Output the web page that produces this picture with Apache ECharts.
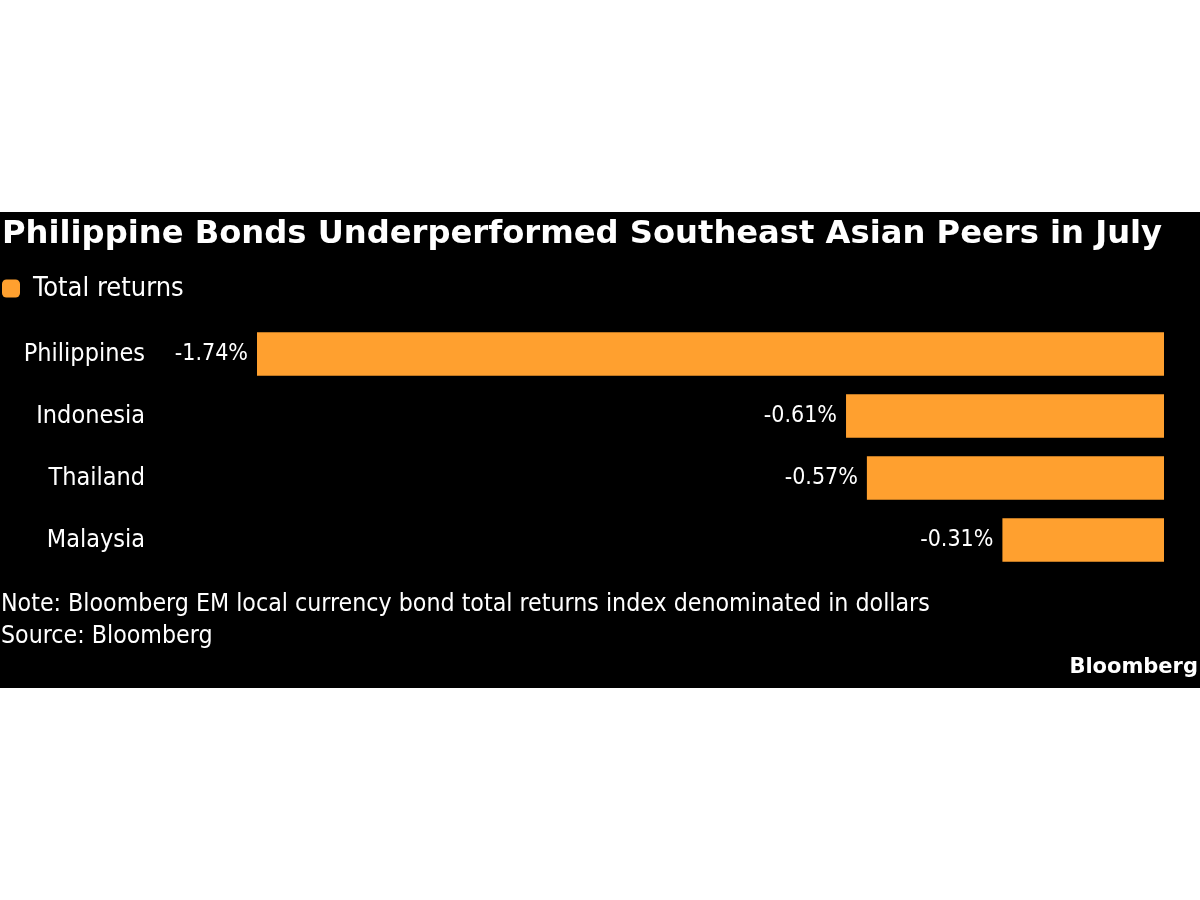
<!DOCTYPE html>
<html><head><meta charset="utf-8">
<script src="https://cdn.jsdelivr.net/npm/echarts@6/dist/echarts.min.js"></script>
<style>html,body{margin:0;padding:0;background:#fff;}#c{width:1200px;height:900px;}</style>
</head><body><div id="c"></div>
<script>
const categories = ['Philippines', 'Indonesia', 'Thailand', 'Malaysia'];
const totalReturns = [-1.74, -0.61, -0.57, -0.31];
const seriesName = 'Total returns';
const titleText = 'Philippine Bonds Underperformed Southeast Asian Peers in July';
const noteText = 'Note: Bloomberg EM local currency bond total returns index denominated in dollars';
const sourceText = 'Source: Bloomberg';

const narrow = '"Liberation Sans Narrow", "DejaVu Sans Condensed", sans-serif';
const chart = echarts.init(document.getElementById('c'));
chart.setOption({
  backgroundColor: '#fff',
  animation: false,
  graphic: [
    { type: 'rect', z: -10, shape: { x: 0, y: 212, width: 1200, height: 476 }, style: { fill: '#000' } },
    { type: 'text', left: 1, top: 592, style: { text: noteText, fill: '#fff', font: '24.7px ' + narrow } },
    { type: 'text', left: 1, top: 624, style: { text: sourceText, fill: '#fff', font: '24.7px ' + narrow } },
    { type: 'text', right: 2, top: 657, style: { text: 'Bloomberg', fill: '#fff', font: 'bold 21px "DejaVu Sans", sans-serif' } }
  ],
  title: {
    text: titleText, left: -3, top: 214,
    textStyle: { color: '#fff', fontSize: 32.2, fontWeight: 'bold', fontFamily: '"DejaVu Sans", sans-serif' }
  },
  legend: {
    left: -3, top: 270, itemWidth: 18, itemHeight: 18, itemGap: 10,
    icon: 'roundRect',
    textStyle: { color: '#fff', fontSize: 27, fontFamily: narrow, padding: [0, 0, 0, 8] },
    data: [seriesName]
  },
  grid: { left: 257, right: 36, top: 323, height: 248 },
  xAxis: {
    type: 'value', min: -1.74, max: 0, show: false
  },
  yAxis: {
    type: 'category', data: categories, inverse: true,
    axisLine: { show: false }, axisTick: { show: false },
    axisLabel: { color: '#fff', fontSize: 25, fontFamily: narrow, margin: 112 }
  },
  series: [{
    name: seriesName, type: 'bar', data: totalReturns, barWidth: '70%',
    itemStyle: { color: '#ffa02f' },
    label: {
      show: true, position: 'left', distance: 9, color: '#fff', fontSize: 23, fontFamily: narrow,
      formatter: p => p.value.toFixed(2) + '%'
    }
  }]
});
</script></body></html>
